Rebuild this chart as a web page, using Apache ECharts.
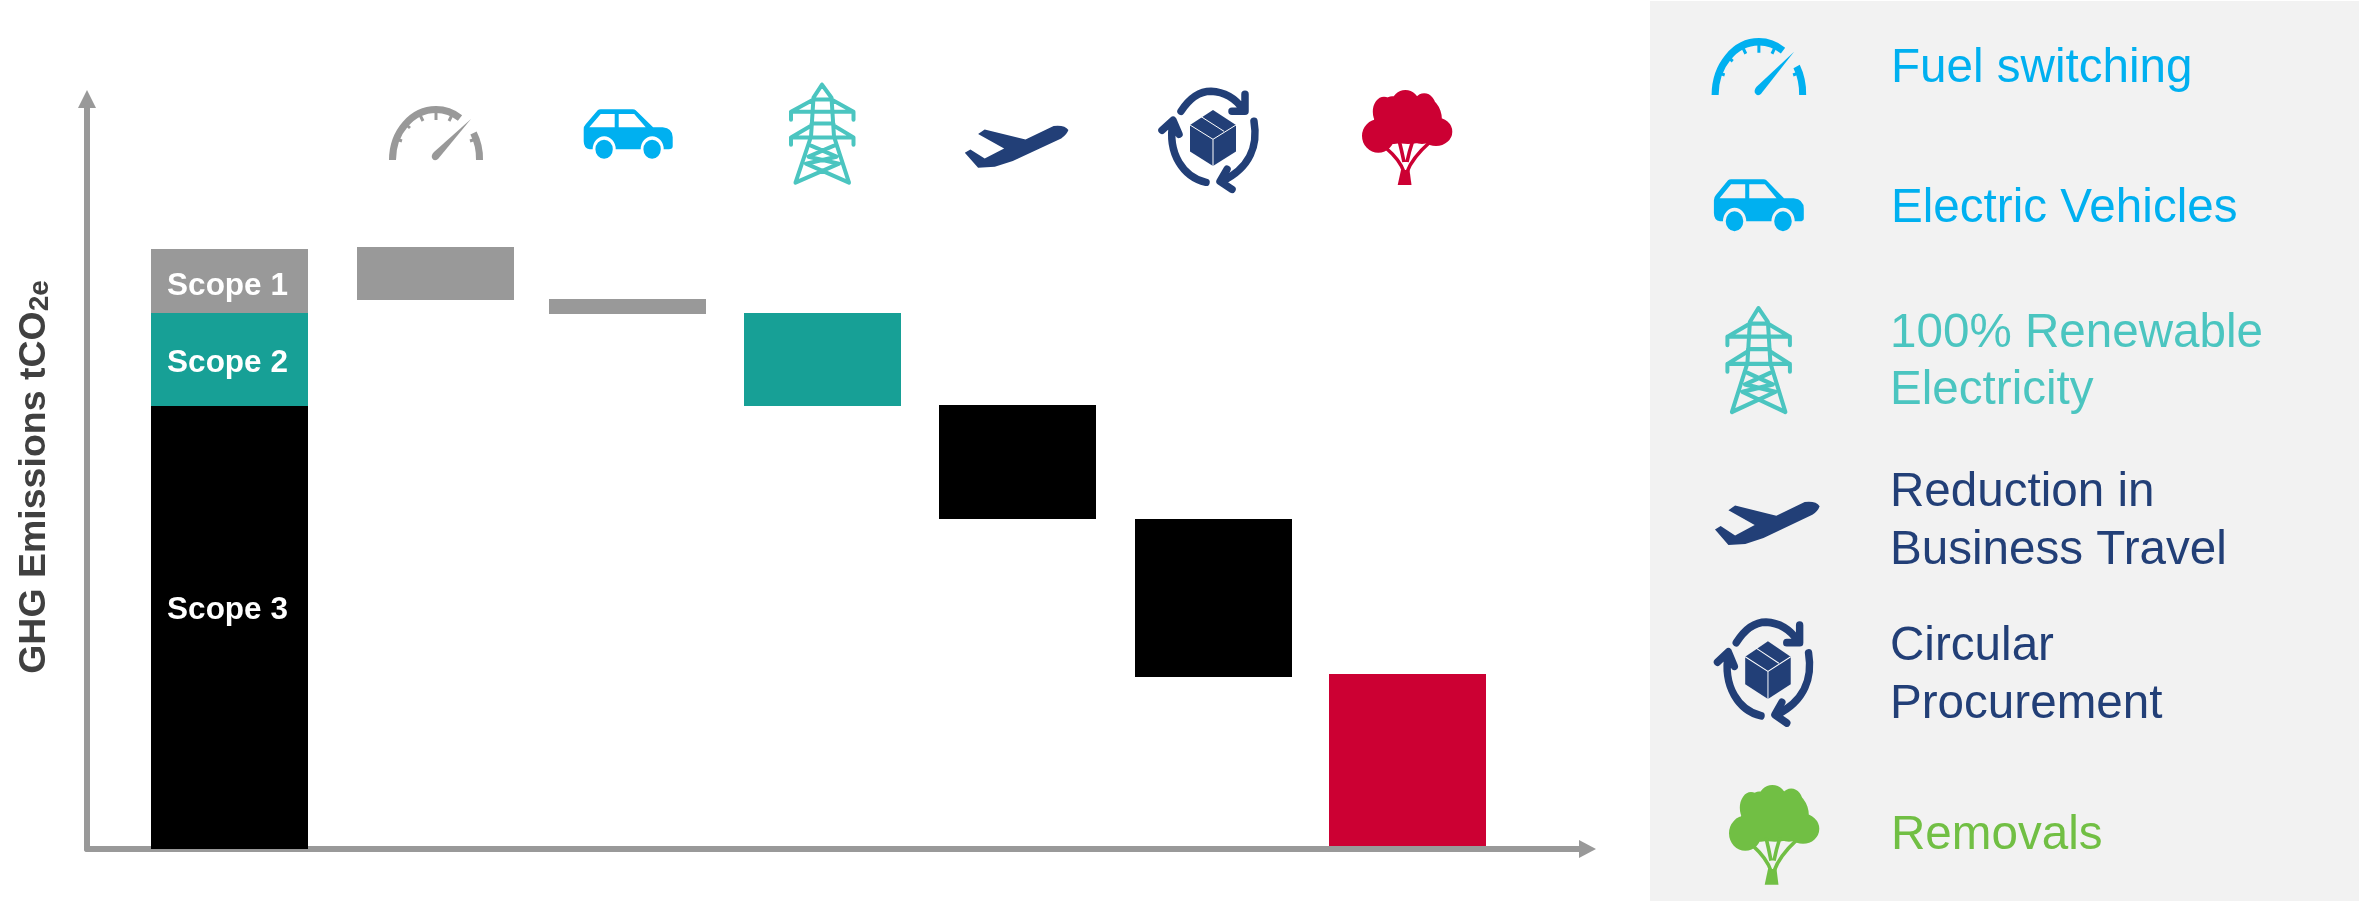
<!DOCTYPE html>
<html><head><meta charset="utf-8">
<style>html,body{margin:0;padding:0;background:#fff}#c{width:2359px;height:901px}</style>
<script src="https://cdn.jsdelivr.net/npm/echarts@6/dist/echarts.min.js"></script>
</head><body><div id="c"></div>
<script>
// ---- data (axis units: total footprint = 100) ----
const categories = ['Baseline','Fuel switching','Electric Vehicles','100% Renewable Electricity','Reduction in Business Travel','Circular Procurement','Removals'];
const scope1 = [10.67];
const scope2 = [15.5];
const scope3 = [73.83];
const waterfallBase = [91.5,89.17,73.83,55,28.67,0.55];
const reductions = [8.83,2.5,15.5,19,26.33,28.62];
const scopeNames = ['Scope 1','Scope 2','Scope 3'];
const legendLines = [['Fuel switching'],['Electric Vehicles'],['100% Renewable','Electricity'],['Reduction in','Business Travel'],['Circular','Procurement'],['Removals']];

// ---- layout and style ----
const categoryCentres = [0,1.049,2.027,3.02,4.014,5.01,6];
const GREY='#999999',TEAL='#17a096',RED='#cc0033',SKY='#00b0f0',AQUA='#4bc5c0',NAVY='#223f77',GREEN='#71bf44',BLACK='#000000';
const reductionColours = [GREY,GREY,TEAL,BLACK,BLACK,RED];
const legendColours = [SKY,SKY,AQUA,NAVY,NAVY,GREEN];
const legendBaselines = [[80],[220],[345,402],[504,562],[658,716],[847]];
const legendX = [1891,1891,1890,1890,1890,1891];
const barWidthPx = 157;
const ell=(cx,cy,rx,ry)=>`M${cx-rx} ${cy}a${rx} ${ry} 0 1 0 ${2*rx} 0a${rx} ${ry} 0 1 0 ${-2*rx} 0Z`;
const icons = {
  gauge:[
    {s:7,c:'butt',d:'M3.5 54A43.5 50.5 0 0 1 71 12'},
    {s:7,c:'butt',d:'M84.5 27A43.5 50.5 0 0 1 90.5 54'},
    {s:3,c:'butt',d:'M47 6V14M31 9L34 15M16.5 18L21 22M7 33L13 35M63 9L60 15M87 33L81 35'},
    {f:1,d:'M82 13L49 53Q45 56 43 52Q42 49 45 46Z'}],
  car:[{f:1,d:'M14 1Q15 0 17 0L49 0Q51 0 52 1L69.4 18L79 18Q89 19 89 28L89 37Q89 40 85 40L80 40A11.5 13 0 0 0 57 40L32 40A11.5 13 0 0 0 9 40L6 40Q0 39 0 32L0 20Q0 17 2 15Z M5.6 18L31 18L31 4.7L17 4.7Z M35 18L62 18L50.5 4.7L35 4.7Z'},
       {f:1,d:ell(20.4,40,8.7,9.5)+ell(68.4,40,8.7,9.5)}],
  tower:[{s:4,d:'M33 2L24.5 15L22 54L6.5 100M33 2L42.5 15L45 54L60 100M24.5 16.7H42.5M24.5 16.7L2 29H64.5L42.5 16.7M2 29V37M64.5 29V37M22.5 40.7H44.5M22 43L2 54.7H64.5L45 43M2 54.7V62M64.5 54.7V62M22 63L47.5 74L17 81L60 100M45 63L19.5 74L50 81L6.5 100'}],
  plane:[{f:1,d:'M103.6 4.3Q100 -1 88.8 0.3L60.7 13.7L19.9 3.7L13.3 8.3L39.3 22.7L19.9 32.7L5.6 23.7L0 27L13.3 42L30 41L48 35.3L96.4 12.7Q102 9 103.6 4.3Z'}],
  cycle:[
    {f:1,d:'M54 20.7L77 35.7L77 62.3L54 76.7L31 62.3L31 35.7Z'},
    {w:1,d:'M31 35.7L54 50L77 35.7M54 50V76.7M42 27.3L65 42'},
    {s:7.5,d:'M22 22Q35 2 52 2Q72 3 84 20M86 5V22H73'},
    {s:7.5,d:'M95 32C99 55 92 78 63 92M68 80L61 92L73 100'},
    {s:7.5,d:'M47 93C25 88 8 65 14 32M3 41L14 31L20 45'}],
  tree:[
    {f:1,d:ell(22,21.7,11.2,15)+ell(43.4,13.3,13.8,13.3)+ell(62.2,18.3,12,15)+ell(16.3,46,16.3,16.7)+ell(74,41.7,16.3,14.3)+ell(46,32,34,22)+ell(32,30,20,24)+ell(60,30,20,24)},
    {f:1,d:'M39 80L35.7 95H49.5L47.5 80Z'},
    {s:3.6,c:'butt',d:'M42 82Q38 70 24 58M45 82Q50 68 68 52M42 72Q40 62 37 50M45 72Q47 62 51 50'}]
};
const iconPlacements = [
  ['gauge',389,106,1,1,GREY],['car',583.7,109.3,1,1,SKY],['tower',789,82.7,1,1,AQUA],
  ['plane',964.8,125.7,1,1,NAVY],['cycle',1159,89.3,1,1,NAVY],['tree',1362,90,1,1,RED],
  ['gauge',1711.6,38,1.006,1.055,SKY],['car',1713.9,179.3,1.01,1.05,SKY],['tower',1725.4,306,1,1.06,AQUA],
  ['plane',1715,501.7,1.01,1.03,NAVY],['cycle',1714.5,620,.99,1.03,NAVY],['tree',1729,785,1,1.05,GREEN]
];

// bar drawn through the axes: value = [x position, base, height]
function barItem(colourOf, labelOf){
  return (p,api)=>{
    const x=api.value(0), b=api.value(1), h=api.value(2);
    const lo=api.coord([x,b]), hi=api.coord([x,b+h]);
    const left=Math.round(lo[0]-barWidthPx/2), top=Math.round(hi[1]), bottom=Math.round(lo[1]);
    const children=[{type:'rect',shape:{x:left,y:top,width:barWidthPx,height:bottom-top},style:{fill:colourOf(p.dataIndex)}}];
    if(labelOf){const l=labelOf; children.push({type:'text',z2:5,style:{text:l.text,x:left+barWidthPx/2-2,y:(top+bottom)/2+l.dy,fill:'#fff',font:'bold 31.5px "Liberation Sans"',align:'center',verticalAlign:'middle'}});}
    return {type:'group',children};
  };
}
const dims = {encode:{x:0,y:[1,2]},clip:false,silent:true};
const scopeSeries=(i,base,val,col,dy)=>({type:'custom',name:scopeNames[i],...dims,data:[[categoryCentres[0],base,val[0]]],renderItem:barItem(()=>col,{text:scopeNames[i],dy})});

const legendText=[];
legendLines.forEach((lines,i)=>lines.forEach((t,j)=>legendText.push({type:'text',z:5,style:{text:t,x:legendX[i],y:legendBaselines[i][j]-35,fill:legendColours[i],font:'47.6px "Liberation Sans"'}})));

const chart = echarts.init(document.getElementById('c'));
chart.setOption({
  animation:false,backgroundColor:'#fff',
  grid:{left:87,top:99,width:1500.5,height:750,containLabel:false,outerBoundsMode:'none'},
  xAxis:{type:'value',min:-0.726,max:6.917,axisLine:{onZero:false,lineStyle:{color:GREY,width:6},symbol:['none','triangle'],symbolSize:[18,17]},axisTick:{show:false},axisLabel:{show:false},splitLine:{show:false}},
  yAxis:{type:'value',min:0,max:125,name:'{a|GHG Emissions tCO}{b|2e}',nameLocation:'middle',nameGap:33,nameRotate:90,
    nameTextStyle:{padding:[0,6,0,0],rich:{a:{fontFamily:'Liberation Sans',fontWeight:'bold',fontSize:37.5,color:'#404040',verticalAlign:'bottom'},b:{fontFamily:'Liberation Sans',fontWeight:'bold',fontSize:28,color:'#404040',verticalAlign:'bottom'}}},
    axisLine:{onZero:false,lineStyle:{color:GREY,width:6},symbol:['none','triangle'],symbolSize:[18,18]},axisTick:{show:false},axisLabel:{show:false},splitLine:{show:false}},
  graphic:{elements:[{type:'rect',z:-1,shape:{x:1650,y:1,width:709,height:900},style:{fill:'#f2f2f2'}},...legendText]},
  series:[
    scopeSeries(2,0,scope3,BLACK,-17.5),
    scopeSeries(1,scope3[0],scope2,TEAL,3.5),
    scopeSeries(0,scope3[0]+scope2[0],scope1,GREY,5.5),
    {type:'custom',name:'Reductions',...dims,data:reductions.map((v,i)=>[categoryCentres[i+1],waterfallBase[i],v]),renderItem:barItem(i=>reductionColours[i])},
    {type:'custom',coordinateSystem:'none',silent:true,z:6,data:iconPlacements.map((_,i)=>[i]),
     renderItem:(p,api)=>{
       const [name,x,y,sx,sy,col]=iconPlacements[api.value(0)];
       return {type:'group',x,y,scaleX:sx,scaleY:sy,children:icons[name].map(part=>({type:'path',shape:{pathData:part.d},
         style:part.f?{fill:col,stroke:null}:part.w?{fill:null,stroke:'#fff',lineWidth:1}:{fill:null,stroke:col,lineWidth:part.s,lineCap:part.c||'round',lineJoin:'round'}}))};
     }}
  ]
});
</script></body></html>
